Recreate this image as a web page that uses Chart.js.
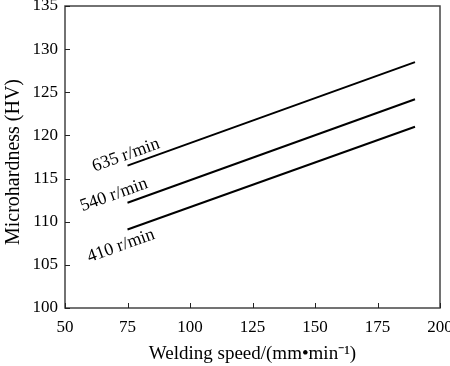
<!DOCTYPE html>
<html>
<head>
<meta charset="utf-8">
<script src="https://cdn.jsdelivr.net/npm/chart.js@4.4.0/dist/chart.umd.min.js"></script>
<style>
html,body{margin:0;padding:0;background:#fff;}
#c{display:block;}
</style>
</head>
<body>
<canvas id="c" width="450" height="366"></canvas>
<script>
// Data
const speeds = [75, 190];
const series635 = [116.5, 128.5];
const series540 = [112.2, 124.2];
const series410 = [109.1, 121.0];
const seriesNames = ['635 r/min', '540 r/min', '410 r/min'];
const xTicks = [50, 75, 100, 125, 150, 175, 200];
const yTicks = [100, 105, 110, 115, 120, 125, 130, 135];

// label anchor points (data coords) for the in-plot annotations
const labelX = [74.4, 69.6, 72.4];
const labelY = [117.7, 113.1, 107.2];

const FONT = '"Liberation Serif", "Times New Roman", serif';
const seriesList = [series635, series540, series410];

const datasets = seriesList.map((s, i) => ({
  label: seriesNames[i],
  data: speeds.map((x, j) => ({x: x, y: s[j]})),
  borderColor: '#000',
  borderWidth: 2,
  pointRadius: 0,
  fill: false,
  tension: 0
}));

const framePlugin = {
  id: 'frame',
  afterDraw(chart) {
    const ctx = chart.ctx;
    const a = chart.chartArea;
    const xs = chart.scales.x, ys = chart.scales.y;
    ctx.save();
    ctx.strokeStyle = '#444';
    ctx.lineWidth = 1.5;
    ctx.strokeRect(a.left, a.top, a.right - a.left, a.bottom - a.top);
    // inward ticks
    ctx.strokeStyle = '#222';
    ctx.lineWidth = 1;
    xTicks.forEach(v => {
      const px = Math.round(xs.getPixelForValue(v)) + 0.5;
      ctx.beginPath(); ctx.moveTo(px, a.bottom); ctx.lineTo(px, a.bottom - 5); ctx.stroke();
    });
    yTicks.forEach(v => {
      const py = Math.round(ys.getPixelForValue(v)) + 0.5;
      ctx.beginPath(); ctx.moveTo(a.left, py); ctx.lineTo(a.left + 5, py); ctx.stroke();
    });
    // series labels
    const ang = Math.atan2(
      ys.getPixelForValue(series635[0]) - ys.getPixelForValue(series635[1]),
      xs.getPixelForValue(speeds[1]) - xs.getPixelForValue(speeds[0]));
    ctx.fillStyle = '#000';
    ctx.font = '18px ' + FONT;
    ctx.textAlign = 'center';
    ctx.textBaseline = 'middle';
    seriesNames.forEach((n, i) => {
      ctx.save();
      ctx.translate(xs.getPixelForValue(labelX[i]), ys.getPixelForValue(labelY[i]));
      ctx.rotate(-ang);
      ctx.fillText(n, 0, 0);
      ctx.restore();
    });
    ctx.restore();
  }
};

new Chart(document.getElementById('c'), {
  type: 'line',
  data: { datasets: datasets },
  options: {
    responsive: false,
    animation: false,
    devicePixelRatio: 1,
    layout: { padding: { left: 0, right: 10, top: 6, bottom: 0 } },
    plugins: { legend: { display: false }, tooltip: { enabled: false } },
    scales: {
      x: {
        type: 'linear',
        min: 50, max: 200,
        afterBuildTicks(scale) { scale.ticks = xTicks.map(v => ({value: v})); },
        afterFit(scale) { scale.height = 58; scale.paddingLeft = 0; scale.paddingRight = 0; },
        border: { display: false },
        grid: { display: false, drawTicks: false },
        ticks: { color: '#000', font: { family: FONT, size: 17 }, padding: 9, maxRotation: 0 },
        title: { display: true, text: 'Welding speed/(mm\u2022min\u207B\u00B9)', color: '#000',
                 font: { family: FONT, size: 19 }, padding: { top: 2, bottom: 1 } }
      },
      y: {
        min: 100, max: 135,
        afterBuildTicks(scale) { scale.ticks = yTicks.map(v => ({value: v})); },
        afterFit(scale) { scale.width = 65; scale.paddingTop = 0; scale.paddingBottom = 0; },
        border: { display: false },
        grid: { display: false, drawTicks: false },
        ticks: { color: '#000', font: { family: FONT, size: 17 }, padding: 7 },
        title: { display: true, text: 'Microhardness (HV)\u00A0\u00A0', color: '#000',
                 font: { family: FONT, size: 20 }, padding: { top: 2, bottom: 2 } }
      }
    }
  },
  plugins: [framePlugin]
});
</script>
</body>
</html>
